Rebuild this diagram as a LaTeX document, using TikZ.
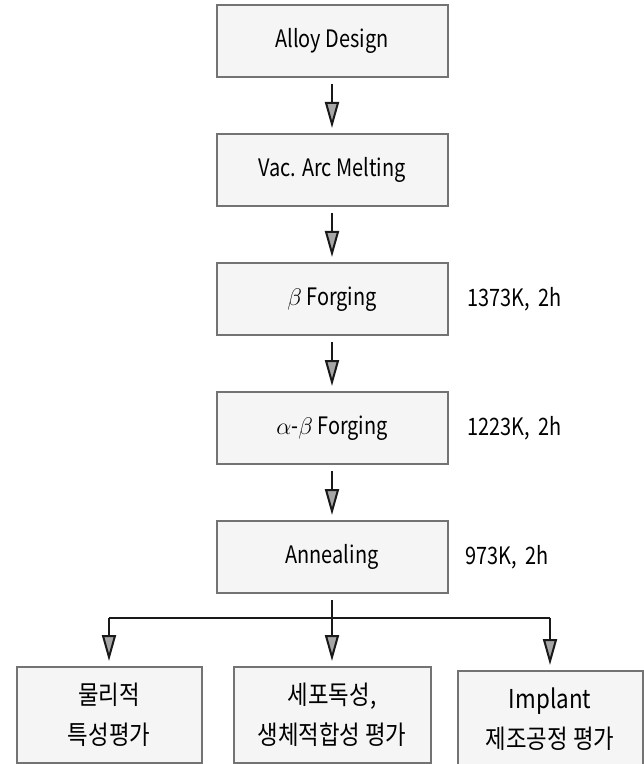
\documentclass[tikz,border=0pt]{standalone}
\usepackage{fontspec}
\setmainfont{Noto Sans CJK KR}[FakeStretch=0.83]
\newfontfamily\krfont{Noto Sans CJK KR}[FakeStretch=0.86]
\usetikzlibrary{positioning}
\usetikzlibrary{arrows.meta}

\tikzset{
  procbox/.style={draw=black!55, line width=1pt, fill=gray!8, inner sep=0pt,
    minimum width=115.5pt, minimum height=36pt, font=\fontsize{12}{20}\selectfont},
  evalbox/.style={procbox, minimum height=48pt, align=center,
    font=\krfont\fontsize{13}{20}\selectfont},
  flow/.style={draw=black!90, line width=1pt, shorten <=3pt, shorten >=2.5pt,
    -{Triangle[length=13pt, width=7pt, fill=gray!70]}},
  trunk/.style={draw=black!90, line width=1.2pt},
  cond/.style={font=\fontsize{12}{14}\selectfont}
}

\begin{document}
\begin{tikzpicture}[x=0.5pt, y=-0.5pt]
 \useasboundingbox (0,0) rectangle (643,764);

 %process steps
 \foreach \i/\name/\txt in {0/alloy/Alloy Design, 1/vam/Vac. Arc Melting,
     2/bforge/$\beta$ Forging, 3/abforge/$\alpha$-$\beta$ Forging, 4/anneal/Annealing} {
   \node[procbox] (\name) at (332, 41+\i*129) {\txt};
 }

 %arrows
 \foreach \a/\b in {alloy/vam, vam/bforge, bforge/abforge, abforge/anneal} {
   \draw[flow] (\a) -- (\b);
 }

 %conditions
 \node[cond, right=6pt of bforge] (bcond) {1373K, \,2h};
 \node[cond, right=6pt of abforge] (abcond) {1223K, \,2h};
 \node[cond, right=5pt of anneal] (acond) {973K, \,2h};

 %level 2
 \coordinate (split) at (332, 618);
 \node[evalbox, minimum width=92.5pt] (phys) at (109, 715) {물리적\\특성평가};
 \node[evalbox, minimum width=98.5pt] (bio) at (332, 715) {세포독성,\\생체적합성 평가};
 \node[evalbox, minimum width=92.5pt] (impl) at (550, 719) {Implant\\제조공정 평가};

 \draw[trunk, shorten <=3pt] (anneal) -- (split);
 \draw[trunk] (split) -- (split -| phys) (split) -- (split -| impl);
 \draw[flow, shorten <=0pt] (split -| phys) -- (phys);
 \draw[flow, shorten <=0pt] (split) -- (bio);
 \draw[flow, shorten <=0pt] (split -| impl) -- (impl);

\end{tikzpicture}
\end{document}
